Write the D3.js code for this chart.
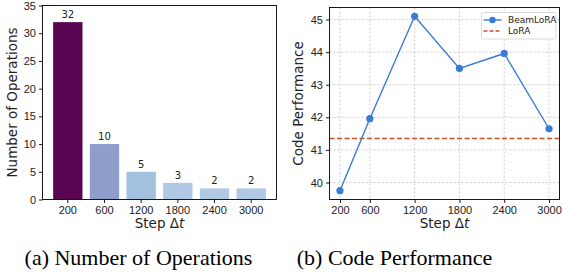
<!DOCTYPE html>
<html>
<head>
  <meta charset="utf-8">
  <title>step-charts</title>
  <style>
    * { padding: 0; margin: 0; }
    body { background: #fff; }
    svg { display: block; font-family: "DejaVu Sans", sans-serif; }
    .caption { font-family: "Liberation Serif", "Times New Roman", serif; }
  </style>
</head>
<body>
  <svg id="svg"></svg>
  <script src="https://cdnjs.cloudflare.com/ajax/libs/d3/7.8.5/d3.min.js"></script>
  <script>
    // data
    const steps = ['200', '600', '1200', '1800', '2400', '3000'];
    const numOps = [32, 10, 5, 3, 2, 2];
    const barColors = ['#5a0551', '#8c9ec9', '#a3c1de', '#afc8e3', '#afc8e3', '#afc8e3'];
    const opsTicks = [0, 5, 10, 15, 20, 25, 30, 35];

    const stepValues = [200, 600, 1200, 1800, 2400, 3000];
    const beamLoRA = [39.75, 41.96, 45.1, 43.5, 43.96, 41.65];
    const loraBaseline = 41.35;
    const perfTicks = [40, 41, 42, 43, 44, 45];

    const W = 563, H = 278;
    const svg = d3.select('#svg').attr('width', W).attr('height', H);
    svg.append('rect').attr('width', W).attr('height', H).attr('fill', '#fff');

    function styleAxis(g) {
      g.selectAll('.domain').remove();
      g.selectAll('line').attr('stroke', '#000').attr('stroke-width', 0.9);
      g.selectAll('text').attr('fill', '#222').style('font-size', '11px');
    }

    // ---------- (a) bar chart ----------
    const a = { left: 42.5, right: 276.5, top: 5.5, bottom: 199.5 };

    const xBand = d3.scaleBand().domain(steps).range([a.left, a.right])
      .paddingInner(0.2).paddingOuter(0.29);
    const yOps = d3.scaleLinear().domain([0, 35]).range([a.bottom, a.top]);

    const ga = svg.append('g');

    ga.selectAll('rect.bar')
      .data(steps)
      .enter()
      .append('rect')
      .attr('class', 'bar')
      .attr('x', d => xBand(d))
      .attr('width', xBand.bandwidth())
      .attr('y', (d, i) => yOps(numOps[i]))
      .attr('height', (d, i) => yOps(0) - yOps(numOps[i]))
      .attr('fill', (d, i) => barColors[i]);

    ga.selectAll('text.val')
      .data(steps)
      .enter()
      .append('text')
      .attr('class', 'val')
      .attr('x', d => xBand(d) + xBand.bandwidth() / 2)
      .attr('y', (d, i) => yOps(numOps[i]) - 4)
      .attr('text-anchor', 'middle')
      .style('font-size', '10px')
      .attr('fill', '#222')
      .text((d, i) => numOps[i]);

    ga.append('g')
      .attr('transform', `translate(0,${a.bottom})`)
      .call(d3.axisBottom(xBand).tickSize(3.5).tickPadding(3))
      .call(styleAxis);

    ga.append('g')
      .attr('transform', `translate(${a.left},0)`)
      .call(d3.axisLeft(yOps).tickValues(opsTicks).tickSize(3.5).tickPadding(3))
      .call(styleAxis);

    ga.append('rect')
      .attr('x', a.left).attr('y', a.top)
      .attr('width', a.right - a.left).attr('height', a.bottom - a.top)
      .attr('fill', 'none').attr('stroke', '#000').attr('stroke-width', 0.9);

    ga.append('text')
      .attr('transform', `translate(17,${(a.top + a.bottom) / 2}) rotate(-90)`)
      .attr('text-anchor', 'middle')
      .style('font-size', '13.5px')
      .attr('fill', '#222')
      .text('Number of Operations');

    const la = ga.append('text')
      .attr('x', (a.left + a.right) / 2).attr('y', 228)
      .attr('text-anchor', 'middle')
      .style('font-size', '13.5px')
      .attr('fill', '#222');
    la.append('tspan').text('Step Δ');
    la.append('tspan').style('font-style', 'italic').text('t');

    // ---------- (b) line chart ----------
    const b = { left: 329.5, right: 559.5, top: 7.5, bottom: 199.5 };

    const xStep = d3.scaleLinear().domain([60, 3140]).range([b.left, b.right]);
    const yPerf = d3.scaleLinear().domain([39.48, 45.37]).range([b.bottom, b.top]);

    const gb = svg.append('g');

    // grid
    gb.selectAll('line.vgrid')
      .data(stepValues)
      .enter()
      .append('line')
      .attr('x1', d => xStep(d)).attr('x2', d => xStep(d))
      .attr('y1', b.top).attr('y2', b.bottom)
      .attr('stroke', '#c8c8c8').attr('stroke-width', 0.9)
      .attr('stroke-dasharray', '2,2');
    gb.selectAll('line.hgrid')
      .data(perfTicks)
      .enter()
      .append('line')
      .attr('x1', b.left).attr('x2', b.right)
      .attr('y1', d => yPerf(d)).attr('y2', d => yPerf(d))
      .attr('stroke', '#c8c8c8').attr('stroke-width', 0.9)
      .attr('stroke-dasharray', '2,2');

    // LoRA baseline
    gb.append('line')
      .attr('x1', b.left).attr('x2', b.right)
      .attr('y1', yPerf(loraBaseline)).attr('y2', yPerf(loraBaseline))
      .attr('stroke', '#c4502e').attr('stroke-width', 1.4)
      .attr('stroke-dasharray', '5,2.5');

    const line = d3.line()
      .x((d, i) => xStep(stepValues[i]))
      .y(d => yPerf(d));

    gb.append('path')
      .datum(beamLoRA)
      .attr('d', line)
      .attr('fill', 'none')
      .attr('stroke', '#3a7bd5')
      .attr('stroke-width', 1.4);

    gb.selectAll('circle.pt')
      .data(beamLoRA)
      .enter()
      .append('circle')
      .attr('class', 'pt')
      .attr('cx', (d, i) => xStep(stepValues[i]))
      .attr('cy', d => yPerf(d))
      .attr('r', 3.6)
      .attr('fill', '#3a7bd5');

    gb.append('g')
      .attr('transform', `translate(0,${b.bottom})`)
      .call(d3.axisBottom(xStep).tickValues(stepValues).tickFormat(d3.format('d')).tickSize(3.5).tickPadding(3))
      .call(styleAxis);

    gb.append('g')
      .attr('transform', `translate(${b.left},0)`)
      .call(d3.axisLeft(yPerf).tickValues(perfTicks).tickFormat(d3.format('d')).tickSize(3.5).tickPadding(3))
      .call(styleAxis);

    gb.append('rect')
      .attr('x', b.left).attr('y', b.top)
      .attr('width', b.right - b.left).attr('height', b.bottom - b.top)
      .attr('fill', 'none').attr('stroke', '#000').attr('stroke-width', 0.9);

    gb.append('text')
      .attr('transform', `translate(303,${(b.top + b.bottom) / 2}) rotate(-90)`)
      .attr('text-anchor', 'middle')
      .style('font-size', '13.5px')
      .attr('fill', '#222')
      .text('Code Performance');

    const lb = gb.append('text')
      .attr('x', (b.left + b.right) / 2).attr('y', 228)
      .attr('text-anchor', 'middle')
      .style('font-size', '13.5px')
      .attr('fill', '#222');
    lb.append('tspan').text('Step Δ');
    lb.append('tspan').style('font-style', 'italic').text('t');

    // legend
    const leg = gb.append('g').attr('transform', 'translate(481.5,12.5)');
    leg.append('rect')
      .attr('width', 74.5).attr('height', 26.5).attr('rx', 2)
      .attr('fill', '#fff').attr('fill-opacity', 0.85)
      .attr('stroke', '#d0d0d0').attr('stroke-width', 0.8);
    leg.append('line')
      .attr('x1', 2).attr('x2', 20).attr('y1', 7.5).attr('y2', 7.5)
      .attr('stroke', '#3a7bd5').attr('stroke-width', 1.4);
    leg.append('circle').attr('cx', 11).attr('cy', 7.5).attr('r', 3.2).attr('fill', '#3a7bd5');
    leg.append('line')
      .attr('x1', 2).attr('x2', 20).attr('y1', 18.5).attr('y2', 18.5)
      .attr('stroke', '#c4502e').attr('stroke-width', 1.4)
      .attr('stroke-dasharray', '4,2');
    leg.append('text').attr('x', 26.5).attr('y', 10.7).style('font-size', '9px').attr('fill', '#222').text('BeamLoRA');
    leg.append('text').attr('x', 26.5).attr('y', 21.7).style('font-size', '9px').attr('fill', '#222').text('LoRA');

    // captions
    svg.append('text').attr('class', 'caption')
      .attr('x', 138.5).attr('y', 265)
      .attr('text-anchor', 'middle')
      .style('font-size', '22px')
      .attr('fill', '#000')
      .text('(a) Number of Operations');
    svg.append('text').attr('class', 'caption')
      .attr('x', 394.5).attr('y', 265)
      .attr('text-anchor', 'middle')
      .style('font-size', '22px')
      .attr('fill', '#000')
      .text('(b) Code Performance');
  </script>
</body>
</html>
